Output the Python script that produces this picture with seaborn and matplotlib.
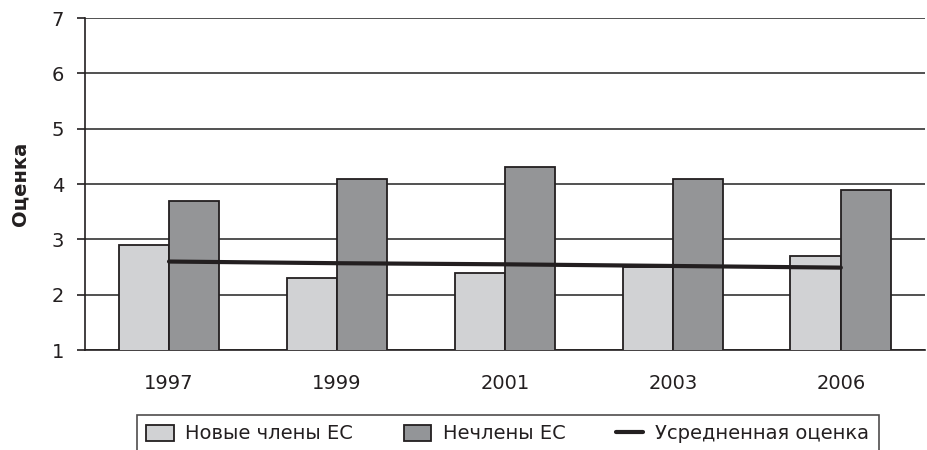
import matplotlib
matplotlib.use("Agg")
import matplotlib.pyplot as plt
import seaborn as sns
import pandas as pd
import numpy as np
from matplotlib.patches import Patch
from matplotlib.lines import Line2D

years = ["1997", "1999", "2001", "2003", "2006"]
new_members = [2.9, 2.3, 2.4, 2.5, 2.7]
non_members = [3.7, 4.1, 4.3, 4.1, 3.9]
average = [2.6, 2.57, 2.55, 2.52, 2.49]
series_names = ["Новые члены ЕС", "Нечлены ЕС"]
line_name = "Усредненная оценка"

light = "#d1d2d4"
dark = "#939598"
ink = "#231f20"

df = pd.DataFrame({
    "year": years * 2,
    "value": new_members + non_members,
    "group": [series_names[0]] * len(years) + [series_names[1]] * len(years),
})

sns.set_style("white")
plt.rcParams["font.family"] = ["DejaVu Sans"]
plt.rcParams["text.color"] = ink
plt.rcParams["axes.labelcolor"] = ink
plt.rcParams["xtick.color"] = ink
plt.rcParams["ytick.color"] = ink

fig = plt.figure(figsize=(9.28, 4.5), dpi=100)
ax = fig.add_axes([0.0916, 0.222, 0.905, 0.738])

sns.barplot(data=df, x="year", y="value", hue="group",
            palette=[light, dark], width=0.6, gap=0,
            edgecolor=ink, linewidth=1.3, bottom=0, ax=ax, legend=False,
            zorder=3)
sns.lineplot(x=np.arange(len(years)), y=average, color=ink, linewidth=3,
             ax=ax, zorder=4)

ax.set_ylim(1, 7)
ax.set_xlim(-0.5, len(years) - 0.5)
ax.set_yticks(range(1, 8))
ax.yaxis.grid(True, color="#333333", linewidth=1.2, zorder=0)
ax.set_axisbelow(True)
for s in ["top", "right"]:
    ax.spines[s].set_visible(False)
for s in ["left", "bottom"]:
    ax.spines[s].set_color(ink)
    ax.spines[s].set_linewidth(1.2)

ax.set_xticks(np.arange(-0.5, len(years)), minor=True)
ax.tick_params(axis="x", which="major", length=0, labelsize=14, pad=17)
ax.tick_params(axis="x", which="minor", length=7, width=1.2, color=ink,
               direction="out")
ax.tick_params(axis="y", length=6, width=1.2, color=ink, labelsize=14,
               left=True, direction="out", pad=9)
ax.set_xlabel("")
ax.set_ylabel("Оценка", fontsize=14, fontweight="bold", labelpad=16)

handles = [
    Patch(facecolor=light, edgecolor=ink, linewidth=1.3, label=series_names[0]),
    Patch(facecolor=dark, edgecolor=ink, linewidth=1.3, label=series_names[1]),
    Line2D([0], [0], color=ink, linewidth=3, label=line_name),
]
leg = fig.legend(handles=handles, loc="upper center", ncol=3,
                 bbox_to_anchor=(0.547, 0.1), frameon=True, fancybox=False,
                 fontsize=14, handlelength=1.4, handleheight=0.9,
                 columnspacing=2.6, handletextpad=0.6, borderpad=0.5)
leg.get_frame().set_edgecolor(ink)
leg.get_frame().set_linewidth(1.2)

fig.savefig("out.png", dpi=100)
